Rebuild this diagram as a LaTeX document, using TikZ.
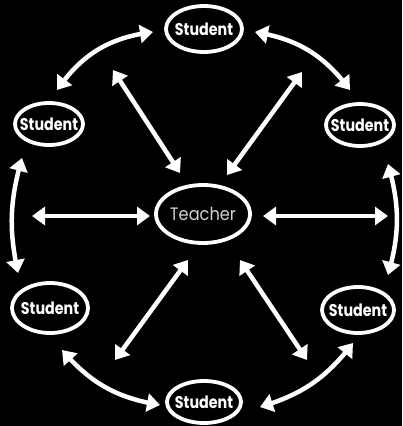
\documentclass[tikz,border=0pt]{standalone}
\usepackage{fontspec}
\setmainfont{Poppins}
\usetikzlibrary{shapes.geometric,arrows.meta,bending}
\newcommand{\stud}{\scalebox{0.84}[1]{\fontsize{17}{17}\selectfont\bfseries Student}}
\begin{document}
\begin{tikzpicture}[x=1pt,y=-1pt,
  bubble/.style={draw=white,line width=3.8pt,ellipse,inner sep=0pt},
  btext/.style={text=white,inner sep=0pt},
  tip/.tip={Triangle[length=13pt,width=18pt]},
  arr/.style={draw=white,line width=4.5pt,tip-tip},
]
\fill[black] (0,0) rectangle (402,426);
\useasboundingbox (0,0) rectangle (402,426);
% nodes
\node[bubble,minimum width=76pt,minimum height=46pt,label={[btext]center:\stud}] (top) at (204,29) {};
\node[bubble,minimum width=68pt,minimum height=42pt,label={[btext]center:\stud}] (ul) at (49,124) {};
\node[bubble,minimum width=68pt,minimum height=42pt,label={[btext]center:\stud}] (ur) at (360,125) {};
\node[bubble,minimum width=94pt,minimum height=58pt,
  label={[btext,text=white!82!black]center:\scalebox{0.9}[1]{\fontsize{18}{18}\selectfont Teacher}}] (teacher) at (203,214) {};
\node[bubble,minimum width=76pt,minimum height=50pt,label={[btext]center:\stud}] (ll) at (50,308) {};
\node[bubble,minimum width=72pt,minimum height=46pt,label={[btext]center:\stud}] (lr) at (358,310) {};
\node[bubble,minimum width=74pt,minimum height=42pt,label={[btext]center:\stud}] (bot) at (204,402) {};
% straight arrow ends
\coordinate (s1a) at (113,70);  \coordinate (s1b) at (180,173);
\coordinate (s2a) at (302,72);  \coordinate (s2b) at (227,175);
\coordinate (s3a) at (32,216);  \coordinate (s3b) at (150,216);
\coordinate (s4a) at (388,216); \coordinate (s4b) at (263,216);
\coordinate (s5a) at (115,360); \coordinate (s5b) at (188,260);
\coordinate (s6a) at (307,360); \coordinate (s6b) at (240,260);
% curved arrow ends
\coordinate (c1a) at (153,32);  \coordinate (c1b) at (57,90);
\coordinate (c2a) at (255,32);  \coordinate (c2b) at (350,90);
\coordinate (c3a) at (22,158);  \coordinate (c3b) at (18,273);
\coordinate (c4a) at (388,164); \coordinate (c4b) at (388,275);
\coordinate (c5a) at (62,350);  \coordinate (c5b) at (160,405);
\coordinate (c6a) at (353,343); \coordinate (c6b) at (260,407);
% straight
\draw[arr] (s1a) -- (s1b);
\draw[arr] (s2a) -- (s2b);
\draw[arr] (s3a) -- (s3b);
\draw[arr] (s4a) -- (s4b);
\draw[arr] (s5a) -- (s5b);
\draw[arr] (s6a) -- (s6b);
% curved
\draw[arr] (c1a) to[bend right=24] (c1b);
\draw[arr] (c2a) to[bend left=22] (c2b);
\draw[arr] (c3a) to[bend right=14] (c3b);
\draw[arr] (c4a) to[bend left=16] (c4b);
\draw[arr] (c5a) to[bend right=20] (c5b);
\draw[arr] (c6a) to[bend left=18] (c6b);
\end{tikzpicture}
\end{document}
